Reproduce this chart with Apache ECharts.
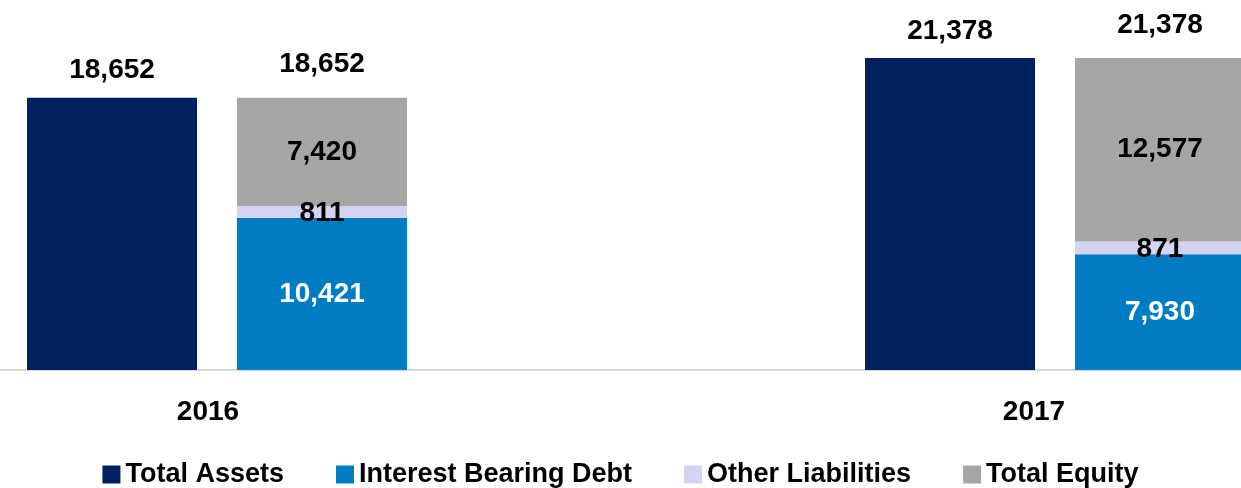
<!DOCTYPE html>
<html lang="en">
<head>
    <meta charset="UTF-8">
    <title>Balance sheet</title>
    <style>
        html, body { margin: 0; padding: 0; background: #fff; }
    </style>
</head>
<body>
<div id="main" style="width: 1241px;height:488px;"></div>
<script src="https://cdn.jsdelivr.net/npm/echarts@6/dist/echarts.min.js"></script>
<script>
  // data
  var years = ['2016', '2017'];
  var totalAssets = [18652, 21378];
  var interestBearingDebt = [10421, 7930];
  var otherLiabilities = [811, 871];
  var totalEquity = [7420, 12577];

  var stackTotals = years.map(function (y, i) {
    return interestBearingDebt[i] + otherLiabilities[i] + totalEquity[i];
  });

  var FONT = 'Liberation Sans';
  var fmt = function (v) { return v.toLocaleString('en-US'); };

  var myChart = echarts.init(document.getElementById('main'));

  var option = {
    animation: false,
    textStyle: { fontFamily: FONT },
    grid: {
      left: -202,
      right: -233,
      top: 5,
      bottom: 118,
      outerBoundsMode: 'none',
      containLabel: false
    },
    legend: {
      data: ['Total Assets', 'Interest Bearing Debt', 'Other Liabilities', 'Total Equity'],
      bottom: -5,
      left: 'center',
      icon: 'rect',
      itemWidth: 18,
      itemHeight: 18,
      itemGap: 52,
      textStyle: { fontSize: 27, fontWeight: 'bold', color: '#000', fontFamily: FONT }
    },
    xAxis: {
      type: 'category',
      data: years,
      axisLine: { lineStyle: { color: '#D9D9D9', width: 2 } },
      axisTick: { show: false },
      axisLabel: {
        margin: 28,
        formatter: function (v) { return '{y' + v + '|' + v + '}'; },
        rich: {
          y2016: { fontSize: 28, fontWeight: 'bold', color: '#000', padding: [0, 18, 0, 0] },
          y2017: { fontSize: 28, fontWeight: 'bold', color: '#000', padding: [0, 42, 0, 0] }
        }
      }
    },
    yAxis: {
      type: 'value',
      min: 0,
      max: 25000,
      show: false,
      splitLine: { show: false }
    },
    series: [
      {
        name: 'Total Assets',
        type: 'bar',
        barWidth: 170,
        barGap: '23.5%',
        data: totalAssets,
        itemStyle: { color: '#002060' },
        label: {
          show: true, position: 'top', distance: 13,
          fontSize: 28, fontWeight: 'bold', color: '#000',
          formatter: function (p) { return fmt(p.value); }
        }
      },
      {
        name: 'Interest Bearing Debt',
        type: 'bar',
        stack: 'liab',
        barWidth: 170,
        data: interestBearingDebt,
        itemStyle: { color: '#007CC3' },
        label: {
          show: true, position: 'inside',
          fontSize: 28, fontWeight: 'bold', color: '#fff',
          formatter: function (p) { return fmt(p.value); }
        }
      },
      {
        name: 'Other Liabilities',
        type: 'bar',
        stack: 'liab',
        barWidth: 170,
        data: otherLiabilities,
        itemStyle: { color: '#D3D3F3' },
        label: {
          show: true, position: 'inside', offset: [0, 1],
          fontSize: 28, fontWeight: 'bold', color: '#000',
          formatter: function (p) { return fmt(p.value); }
        }
      },
      {
        name: 'Total Equity',
        type: 'bar',
        stack: 'liab',
        barWidth: 170,
        data: totalEquity,
        itemStyle: { color: '#A6A6A6' },
        label: {
          show: true, position: 'inside',
          fontSize: 28, fontWeight: 'bold', color: '#000',
          formatter: function (p) { return fmt(p.value); }
        }
      },
      {
        // zero-height cap that carries the stack total label
        name: 'Total',
        type: 'bar',
        stack: 'liab',
        barWidth: 170,
        data: years.map(function () { return 0; }),
        itemStyle: { color: 'transparent' },
        label: {
          show: true, position: 'top', distance: 19,
          fontSize: 28, fontWeight: 'bold', color: '#000',
          formatter: function (p) { return fmt(stackTotals[p.dataIndex]); }
        }
      }
    ]
  };

  myChart.setOption(option);
</script>
</body>
</html>
